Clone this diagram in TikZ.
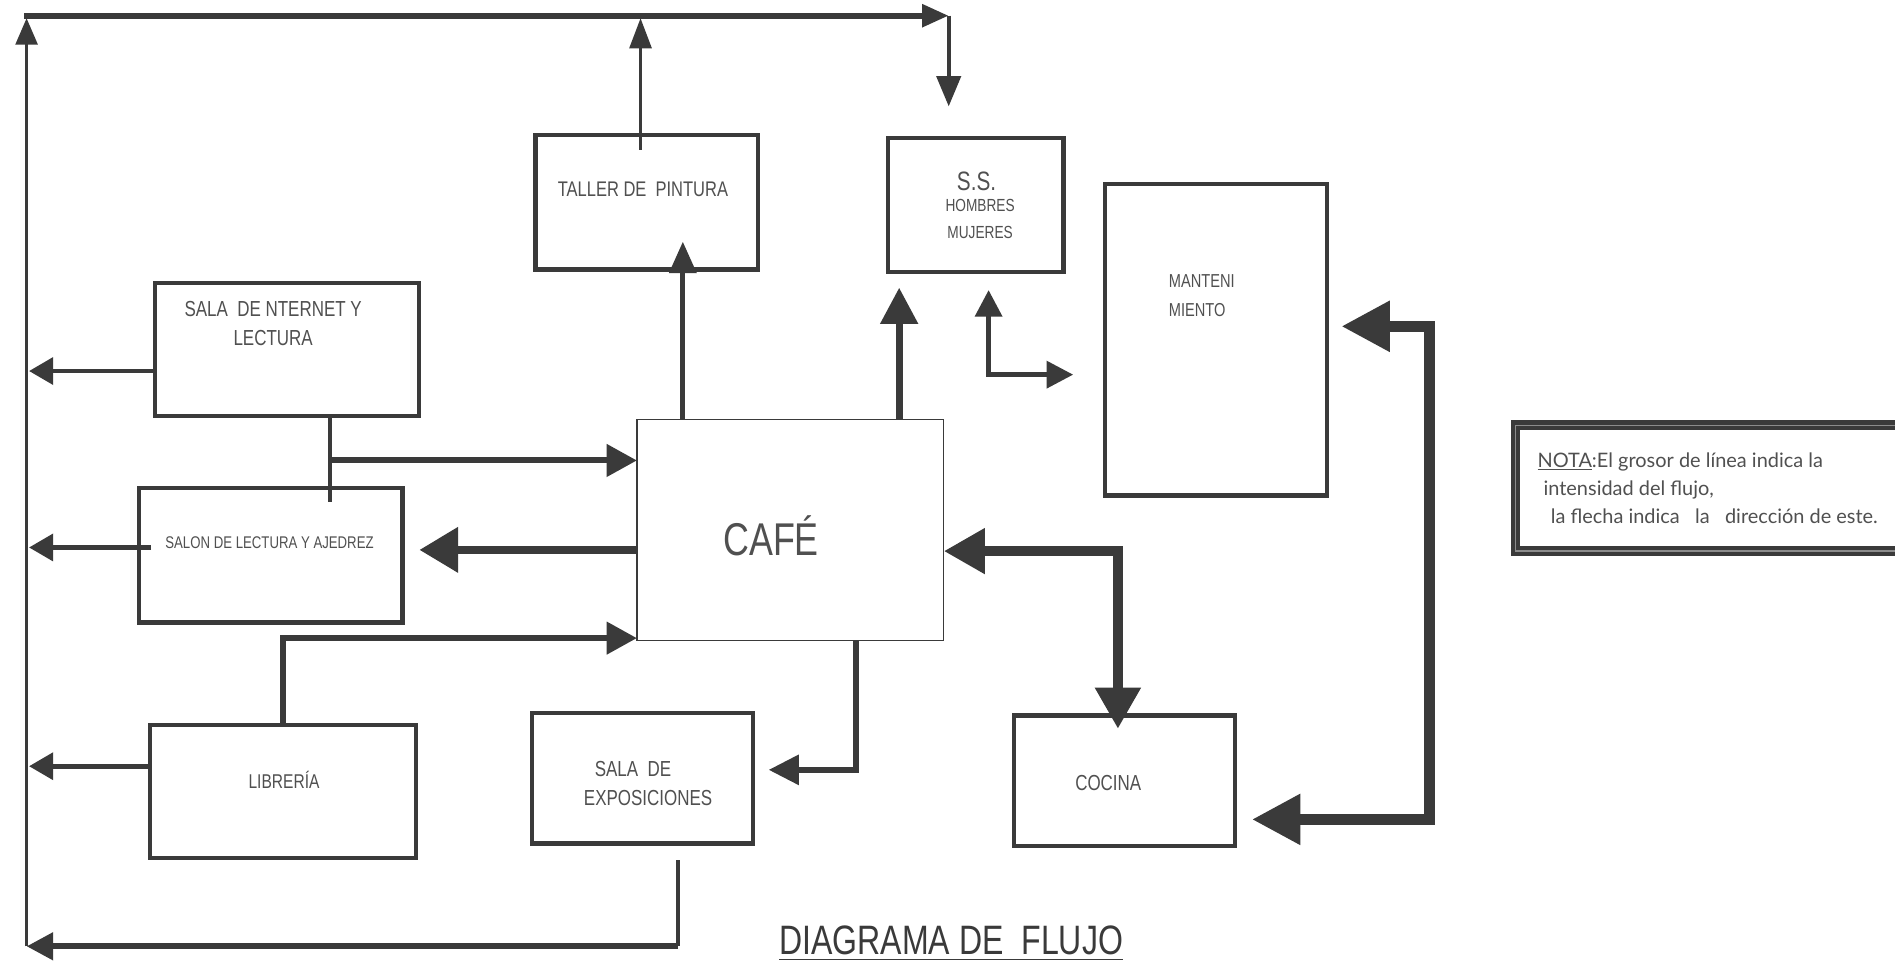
\documentclass[tikz,border=0pt]{standalone}
\usepackage{fontspec}
\setmainfont{Liberation Sans}[FakeStretch=0.78]
\newfontfamily\notafont{Lato}
\usetikzlibrary{arrows.meta,calc}
\definecolor{dk}{HTML}{3A3A3A}
\definecolor{tx}{HTML}{505050}
\tikzset{
  box/.style={draw=dk, line width=3.5pt, inner sep=0pt, outer sep=0pt},
  lbl/.style={text=tx, inner sep=0pt, align=center},
  notetxt/.style={text=tx, inner sep=0pt, anchor=base west, align=left, font=\notafont\fontsize{16.5}{18}\selectfont},
  flow/.style n args={3}{draw=dk, line width=#1, -{Triangle[length=#2,width=#3]}},
  bflow/.style n args={3}{draw=dk, line width=#1, {Triangle[length=#2,width=#3]}-{Triangle[length=#2,width=#3]}},
  plain/.style={draw=dk, line width=#1},
}
\begin{document}
\begin{tikzpicture}[x=1pt,y=-1pt]
\useasboundingbox (0,0) rectangle (1568,797);
\fill[white] (0,0) rectangle (1568,797);

% boxes
\node[box, minimum width=184pt, minimum height=111pt] (taller) at (535,167.5) {};
\node[box, minimum width=145pt, minimum height=111pt] (ss) at (807.5,169.5) {};
\node[box, minimum width=184pt, minimum height=258pt] (mant) at (1006,281) {};
\node[box, minimum width=219pt, minimum height=110pt] (internet) at (237.5,289) {};
\node[box, minimum width=218pt, minimum height=111pt] (salon) at (224,459.5) {};
\node[draw=dk, line width=1pt, inner sep=0pt, outer sep=0pt, minimum width=254pt, minimum height=183pt] (cafe) at (654,438.5) {};
\node[box, minimum width=220pt, minimum height=110pt] (libreria) at (234,655) {};
\node[box, minimum width=183pt, minimum height=108pt] (salaexp) at (531.5,644) {};
\node[box, minimum width=183pt, minimum height=108pt] (cocina) at (930.5,646) {};
\node[draw=dk, line width=3.5pt, double=black!45, double distance=1.2pt, inner sep=0pt, outer sep=0pt, minimum width=340pt, minimum height=104pt, anchor=west] (nota) at (1254,404) {};

% labels
\node[lbl, font=\fontsize{17.5}{19}\selectfont] (tallerT) at (532,157) {TALLER DE\ \ PINTURA};
\node[lbl, font=\fontsize{22}{24}\selectfont] (ssT1) at (808,150) {S.S.};
\node[lbl, font=\fontsize{14.5}{22}\selectfont] (ssT2) at (811,181) {HOMBRES\\MUJERES};
\node[lbl, font=\fontsize{15.5}{24}\selectfont, align=left, anchor=west] (mantT) at (967,245) {MANTENI\\MIENTO};
\node[lbl, font=\fontsize{18}{24}\selectfont] (internetT) at (226,268) {SALA\ \ DE NTERNET Y\\LECTURA};
\node[lbl, font=\fontsize{14}{16}\selectfont] (salonT) at (223,449) {SALON DE LECTURA Y AJEDREZ};
\node[lbl, font=\fontsize{38}{42}\selectfont] (cafeT) at (638,443) {CAFÉ};
\node[lbl, font=\fontsize{16.5}{18}\selectfont] (libreriaT) at (235,645) {LIBRERÍA};
\node[lbl, font=\fontsize{18}{24}\selectfont, align=left, anchor=west] (salaexpT) at (483,648) {\hspace{9pt}SALA\ \ DE\\EXPOSICIONES};
\node[lbl, font=\fontsize{18}{20}\selectfont] (cocinaT) at (917,648) {COCINA};
\node[lbl, font=\fontsize{34}{38}\selectfont, text=dk, anchor=base] (title) at (787,790) {DIAGRAMA DE\ \ FLUJO};
\draw[dk, line width=1.2pt] ($(title.base west)+(0,4)$) -- ($(title.base east)+(0,4)$);
\node[notetxt] (nota1) at (1272,387) {\underline{NOTA}:El grosor de línea indica la};
\node[notetxt] (nota2) at (1277,410) {intensidad del flujo,};
\node[notetxt] (nota3) at (1283,433) {la flecha indica\ \ \ la\ \ \ dirección de este.};

% coordinates
\coordinate (LB) at (22,783);
\coordinate (LT) at (22,15);
\coordinate (TL) at (20,13);
\coordinate (TR) at (785,13);
\coordinate (SSin) at (785,88);
\coordinate (T1) at (530,15);
\coordinate (T2) at (565,200);
\coordinate (L1) at (24,307);
\coordinate (L2) at (24,453);
\coordinate (L3) at (24,634);
\coordinate (J1) at (273,381);
\coordinate (J1b) at (273,415);
\coordinate (J2) at (234,528);
\coordinate (J3) at (708,637);
\coordinate (J3e) at (636,637);
\coordinate (S1) at (561,712);
\coordinate (S1b) at (561,783);
\coordinate (S2) at (347,455);
\coordinate (J4) at (744,238);
\coordinate (K1) at (818,240);
\coordinate (K2) at (818,310);
\coordinate (K3) at (888,310);
\coordinate (C1) at (925,456);
\coordinate (C2) at (925,603);
\coordinate (M0) at (1110,270);
\coordinate (M1) at (1183,270);
\coordinate (M2) at (1183,678);
\coordinate (M3) at (1036,678);

% top loop
\draw[flow={3pt}{22pt}{18pt}] (LB) -- (LT);
\draw[flow={5pt}{22pt}{18pt}] (TL) -- (TR);
\draw[flow={3pt}{25pt}{20pt}] (TR) -- (SSin);
\draw[flow={3pt}{25pt}{18pt}] ($(taller.north -| T1)+(0,12)$) -- (T1);

% left collectors
\draw[flow={4pt}{20pt}{22pt}] (internet.west |- L1) -- (L1);
\draw[flow={4pt}{20pt}{22pt}] ($(salon.west |- L2)+(10,0)$) -- (L2);
\draw[flow={4pt}{20pt}{22pt}] (libreria.west |- L3) -- (L3);
\draw[plain=4pt] (S1) -- (S1b);
\draw[flow={5pt}{22pt}{22pt}] (S1b) -- (LB);

% internet / salon -> cafe
\draw[plain=4pt] (internet.south -| J1) -- (J1b);
\draw[flow={5pt}{25pt}{26pt}] (J1) -- (cafe.west |- J1);
% libreria -> cafe
\draw[flow={5pt}{25pt}{26pt}] (libreria.north -| J2) -- (J2) -- (cafe.west |- J2);
% cafe -> salon
\draw[flow={7pt}{32pt}{36pt}] (cafe.west |- S2) -- (S2);
% cafe -> sala exposiciones
\draw[flow={5pt}{25pt}{24pt}] (cafe.south -| J3) -- (J3) -- (J3e);
% cafe -> taller
\draw[flow={4pt}{26pt}{22pt}] (cafe.north -| T2) -- (T2);
% cafe -> s.s.
\draw[flow={6pt}{30pt}{30pt}] (cafe.north -| J4) -- (J4);
% s.s. <-> mantenimiento
\draw[bflow={4pt}{22pt}{22pt}] (K1) -- (K2) -- (K3);
% cafe <-> cocina
\draw[bflow={8pt}{34pt}{36pt}] (cafe.east |- C1) -- (C1) -- (C2);
% mantenimiento <-> cocina
\draw[bflow={9pt}{40pt}{40pt}] (M0) -- (M1) -- (M2) -- (M3);
\end{tikzpicture}
\end{document}
